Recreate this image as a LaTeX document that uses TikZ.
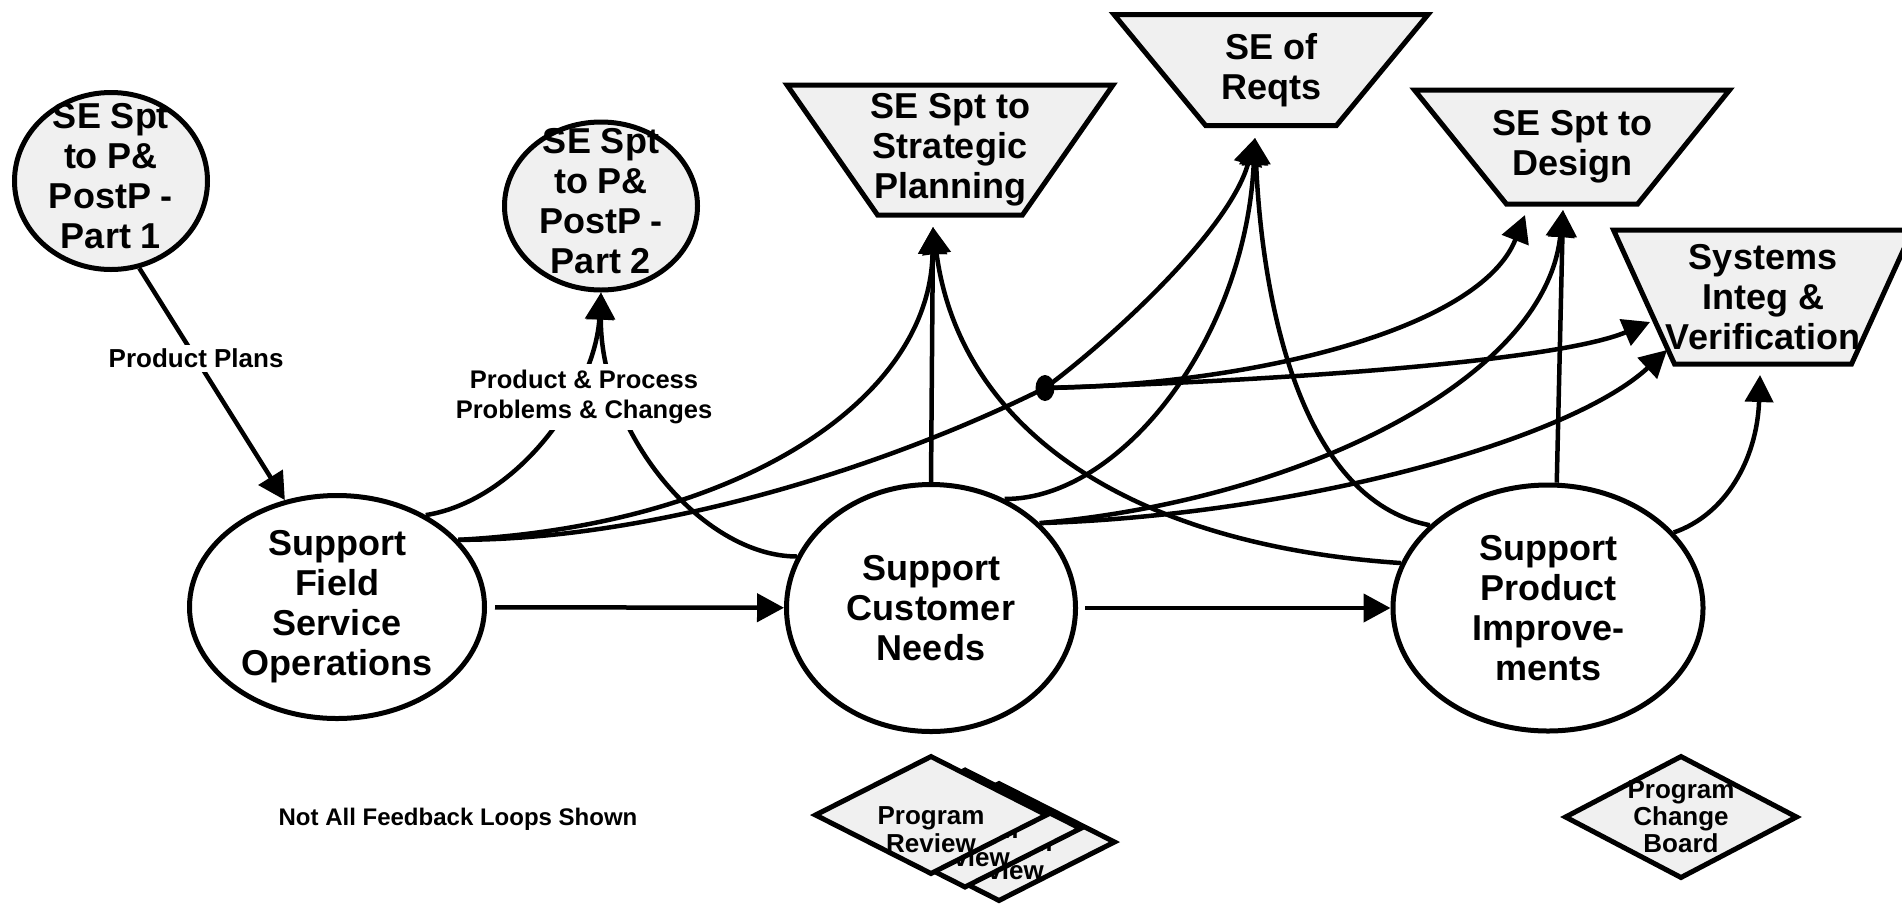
\documentclass[tikz,border=0pt]{standalone}
\usepackage{fontspec}
\setmainfont{Liberation Sans}
\usetikzlibrary{shapes.geometric, arrows.meta}
\usepackage{xcolor}
\definecolor{panel}{gray}{0.94}
\tikzstyle{proc}=[ellipse, draw, line width=5pt, fill=white, inner sep=0pt]
\tikzstyle{part}=[ellipse, draw, line width=5pt, fill=panel, inner sep=0pt]
\tikzstyle{sebox}=[trapezium, shape border rotate=180, trapezium stretches=true, draw, line width=5pt, fill=panel, inner sep=1pt]
\tikzstyle{board}=[diamond, draw, line width=5pt, fill=panel, inner sep=0pt, minimum width=233pt, minimum height=119pt]
\tikzstyle{big}=[font=\bfseries\fontsize{36}{40}\selectfont, align=center]
\tikzstyle{mid}=[font=\bfseries\fontsize{26}{28}\selectfont, align=center]
\tikzstyle{small}=[font=\bfseries\fontsize{24}{30}\selectfont, align=center]
\tikzstyle{link}=[line width=4.5pt]
\tikzstyle{flow}=[link, -{Triangle[length=27pt, width=28pt]}]
\newcommand{\proc}{\node[proc]}

\begin{document}
\begin{tikzpicture}[x=1pt, y=-1pt]
\useasboundingbox (0,0) rectangle (1902,906);

% processes
\proc[minimum width=295pt, minimum height=223pt] (fso) at (337,607) {};
\proc[minimum width=289pt, minimum height=247pt] (scn) at (931,608) {};
\proc[minimum width=310pt, minimum height=246pt] (spi) at (1548,608) {};
\node[big] at (fso) {Support\\Field\\Service\\Operations};
\node[big] at (scn) {Support\\Customer\\Needs};
\node[big] at (spi) {Support\\Product\\Improve-\\ments};

% P&PostP parts
\node[part, minimum width=193pt, minimum height=177pt] (p1) at (111,181) {};
\node[part, minimum width=193pt, minimum height=168pt] (p2) at (601,206) {};
\node[big] at (111,176) {SE Spt\\to P\&\\PostP -\\Part 1};
\node[big] at (601,201) {SE Spt\\to P\&\\PostP -\\Part 2};

% SE activities
\node[sebox, minimum width=326pt, minimum height=130pt, trapezium left angle=58, trapezium right angle=58] (ssp) at (950,150) {};
\node[sebox, minimum width=314pt, minimum height=111pt, trapezium left angle=55, trapezium right angle=55] (req) at (1271,70) {};
\node[sebox, minimum width=315pt, minimum height=114pt, trapezium left angle=55, trapezium right angle=55] (des) at (1572,147) {};
\node[sebox, minimum width=299pt, minimum height=134pt, trapezium left angle=71, trapezium right angle=71] (siv) at (1763,297) {};
\node[big] at (ssp) {SE Spt to\\Strategic\\Planning};
\node[big] at (req) {SE of\\Reqts};
\node[big] at (des) {SE Spt to\\Design};
\node[big] at (siv) {Systems\\Integ \&\\Verification};

% reviews
\foreach \k in {2,1,0}{
  \node[board] (rev\k) at ({931+34*\k},{815+13.5*\k}) {};
  \node[mid] at ({931+34*\k},{830+13.5*\k}) {Program\\Review};
}
\node[board, minimum height=123pt] (pcb) at (1681,817) {};
\node[mid, font=\bfseries\fontsize{26}{27}\selectfont] at (pcb) {Program\\Change\\Board};
\node[small] (note) at (458,819) {Not All Feedback Loops Shown};

% arrow ends
\node[ellipse, fill, inner sep=0pt, minimum width=19pt, minimum height=26pt] (dot) at (1045,388) {};
\coordinate (ssp-in) at (933,227);
\coordinate (req-in) at (1255,138);
\coordinate (des-in) at (1563,210);
\coordinate (des-l) at (1525,215);
\coordinate (siv-in) at (1760,375);
\coordinate (siv-a) at (1650,322);
\coordinate (siv-b) at (1667,350);

% main flow
\draw[flow] (p1.-72) -- node[small, fill=white, inner sep=4pt, font=\bfseries\fontsize{26}{30}\selectfont, pos=0.39] {Product Plans} (fso.116);
\draw[flow, shorten <=8pt] (fso) -- (scn);
\draw[flow, shorten <=7pt] (scn) -- (spi);

% feedback
\draw[flow] (fso.46) .. controls (520,500) and (595,390) .. (p2.south);
\draw[flow] (scn.159) .. controls (700,556) and (600,430) .. (p2.south);
\node[small, fill=white, inner sep=6pt, font=\bfseries\fontsize{25.5}{30}\selectfont] at (584,397) {Product \& Process\\Problems \& Changes};

\draw[flow] (scn.north) -- (ssp-in);
\draw[flow] (fso.29) .. controls (740,525) and (930,400) .. (ssp-in);
\draw[flow] (spi.163) .. controls (1130,545) and (960,430) .. (ssp-in);

\draw[link] (fso.29) .. controls (650,540) and (880,470) .. (dot.center);
\draw[flow] (dot.center) .. controls (1110,340) and (1230,230) .. (req-in);
\draw[flow] (dot.center) .. controls (1300,380) and (1560,360) .. (siv-a);
\draw[flow] (dot.center) .. controls (1250,385) and (1480,330) .. (des-l);

\draw[flow] (scn.56) .. controls (1120,500) and (1245,340) .. (req-in);
\draw[flow] (spi.145) .. controls (1300,500) and (1262,300) .. (req-in);
\draw[flow] (spi.86) -- (des-in);
\draw[flow] (scn.38) .. controls (1300,500) and (1545,380) .. (des-in);
\draw[flow] (scn.38) .. controls (1300,515) and (1570,440) .. (siv-b);
\draw[flow] (spi.31) .. controls (1725,515) and (1757,460) .. (siv-in);
\end{tikzpicture}
\end{document}
